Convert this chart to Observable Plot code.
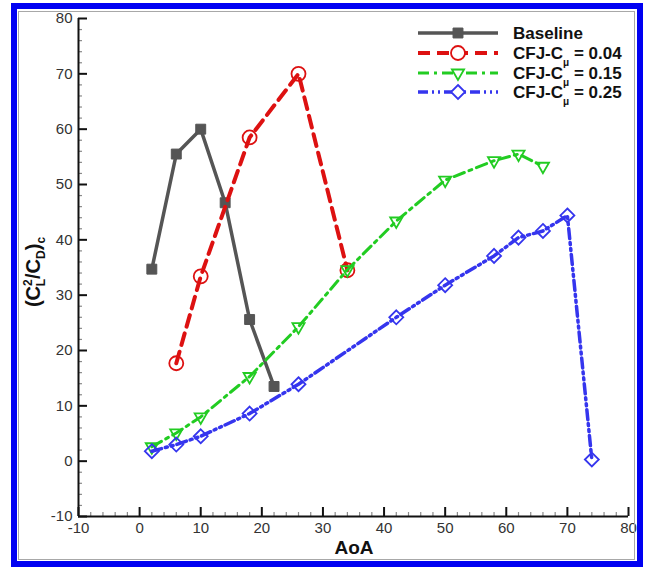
<!DOCTYPE html>
<html><head><meta charset="utf-8">
<script src="https://cdn.jsdelivr.net/npm/d3@7"></script>
<script src="https://cdn.jsdelivr.net/npm/@observablehq/plot@0.6"></script>
<style>
body{margin:0;background:#fff;}
#wrap{position:relative;width:647px;height:567px;overflow:hidden;font-family:"Liberation Sans",Arial,sans-serif;background:#fff;}
#wrap svg{position:absolute;left:0;top:0;}
#blue{position:absolute;left:11px;top:3px;width:632px;height:564px;border:6px solid #0000f2;box-sizing:border-box;pointer-events:none;}
#gray{position:absolute;left:18px;top:11px;width:617px;height:549px;border:1px solid #a8a8a8;box-sizing:border-box;pointer-events:none;}
</style></head>
<body><div id="wrap"></div>
<script>
// ---- data ----
const baseX = [2, 6, 10, 14, 18, 22];
const baseY = [34.7, 55.5, 60.0, 46.7, 25.6, 13.5];
const c04X = [6, 10, 18, 26, 34];
const c04Y = [17.7, 33.4, 58.5, 70.0, 34.5];
const c15X = [2, 6, 10, 18, 26, 34, 42, 50, 58, 62, 66];
const c15Y = [2.6, 5.1, 8.0, 15.3, 24.3, 34.6, 43.4, 50.8, 54.3, 55.5, 53.3];
const c25X = [2, 6, 10, 18, 26, 42, 50, 58, 62, 66, 70, 74];
const c25Y = [1.8, 3.0, 4.5, 8.6, 13.9, 26.0, 31.8, 37.1, 40.4, 41.6, 44.4, 0.3];

const xTicks = [-10, 0, 10, 20, 30, 40, 50, 60, 70, 80];
const yTicks = [-10, 0, 10, 20, 30, 40, 50, 60, 70, 80];
const seriesNames = ["Baseline", "CFJ-C", "CFJ-C", "CFJ-C"];
const cmuValues = [null, "0.04", "0.15", "0.25"];
const xLabel = "AoA";

// ---- styles ----
const colors = ["#555555", "#dd1111", "#22cc22", "#3535ee"];
const dashes = [null, "12,7", "11,5,3,5", "10,4,2,4,2,4"];
const widths = [3.5, 4, 3, 3.5];
const symbols = ["square", "circle", "triangle2", "diamond2"];
const radii = [5.6, 7, 5.8, 6.3];
const rotates = [0, 0, 180, 0];

const rows = (xs, ys) => xs.map((x, i) => ({x, y: ys[i]}));
const series = [rows(baseX, baseY), rows(c04X, c04Y), rows(c15X, c15Y), rows(c25X, c25Y)];

const xMinor = d3.range(-10, 81, 2).filter(v => v % 10 !== 0);
const yMinor = d3.range(-10, 81, 2).filter(v => v % 10 !== 0);

// tick lengths in data units (9px major, 4px minor, pointing inward)
const pxX = 550 / 90, pxY = 498 / 90;

const seriesMarks = series.flatMap((d, i) => [
  Plot.line(d, {x: "x", y: "y", stroke: colors[i], strokeWidth: widths[i], strokeDasharray: dashes[i], strokeLinejoin: "round"}),
  Plot.dot(d, {x: "x", y: "y", symbol: symbols[i], r: radii[i], rotate: rotates[i],
    fill: i === 0 ? colors[i] : "none", stroke: colors[i], strokeWidth: i === 0 ? 1 : 1.8})
]);

const chart = Plot.plot({
  width: 647, height: 567,
  marginLeft: 78, marginRight: 19, marginTop: 18, marginBottom: 51,
  x: {domain: [-10, 80]},
  y: {domain: [-10, 80]},
  style: {fontFamily: '"Liberation Sans", Arial, sans-serif', fontSize: "15px", color: "#333", background: "transparent", overflow: "visible"},
  marks: [
    Plot.ruleX(xMinor, {y1: -10, y2: -10 + 4 / pxY, stroke: "#8a8a8a", strokeWidth: 1.2}),
    Plot.ruleY(yMinor, {x1: -10, x2: -10 + 4 / pxX, stroke: "#8a8a8a", strokeWidth: 1.2}),
    Plot.ruleX(xTicks, {y1: -10, y2: -10 + 9 / pxY, stroke: "#111", strokeWidth: 2}),
    Plot.ruleY(yTicks, {x1: -10, x2: -10 + 9 / pxX, stroke: "#111", strokeWidth: 2}),
    Plot.axisX(xTicks, {tickSize: 0, tickPadding: 6, label: null, fill: "#333", tickFormat: d => String(d)}),
    Plot.axisY(yTicks, {tickSize: 0, tickPadding: 6, label: null, fill: "#333", tickFormat: d => String(d)}),
    Plot.ruleX([-10], {stroke: "#111", strokeWidth: 2}),
    Plot.ruleY([-10], {stroke: "#111", strokeWidth: 2}),
    ...seriesMarks
  ]
});

document.getElementById("wrap").appendChild(chart);
const svg = d3.select(chart);
const ff = '"Liberation Sans", Arial, sans-serif';

// x label
svg.append("text").attr("x", 354).attr("y", 554).attr("text-anchor", "middle")
  .attr("font-family", ff).attr("font-weight", "bold").attr("font-size", 19).attr("fill", "#111").text(xLabel);

// y label (C_L^2/C_D)_c
const yl = svg.append("text").attr("transform", "translate(40,272) rotate(-90)").attr("text-anchor", "middle")
  .attr("font-family", ff).attr("font-weight", "bold").attr("font-size", 20).attr("fill", "#111");
yl.append("tspan").text("(C");
yl.append("tspan").attr("font-size", 12).attr("dy", -8).text("2");
yl.append("tspan").attr("font-size", 12).attr("dx", -7).attr("dy", 13).text("L");
yl.append("tspan").attr("dy", -5).text("/C");
yl.append("tspan").attr("font-size", 12).attr("dy", 5).text("D");
yl.append("tspan").attr("dy", -5).text(")");
yl.append("tspan").attr("font-size", 12).attr("dy", 5).text("c");

// legend
const legY = [33, 53, 73, 92];
const symMap = {square: d3.symbolSquare, circle: d3.symbolCircle, triangle2: d3.symbolTriangle2, diamond2: d3.symbolDiamond2};
seriesNames.forEach((name, i) => {
  const g = svg.append("g");
  g.append("line").attr("x1", 418).attr("x2", 498).attr("y1", legY[i]).attr("y2", legY[i])
    .attr("stroke", colors[i]).attr("stroke-width", widths[i]).attr("stroke-dasharray", dashes[i]);
  g.append("path").attr("d", d3.symbol(symMap[symbols[i]], Math.PI * radii[i] * radii[i])())
    .attr("transform", `translate(458,${legY[i]}) rotate(${rotates[i]})`)
    .attr("fill", i === 0 ? colors[i] : "#fff").attr("stroke", colors[i]).attr("stroke-width", i === 0 ? 1 : 1.8);
  const t = g.append("text").attr("x", 513).attr("y", legY[i]).attr("dy", "0.36em").attr("text-anchor", "start")
    .attr("font-family", ff).attr("font-weight", "bold").attr("font-size", 17).attr("fill", "#111");
  t.append("tspan").text(name);
  if (cmuValues[i]) {
    t.append("tspan").attr("font-size", 10).attr("dy", 7).text("μ");
    t.append("tspan").attr("dy", -7).text(" = " + cmuValues[i]);
  }
});

const wrap = document.getElementById("wrap");
const gray = document.createElement("div"); gray.id = "gray"; wrap.appendChild(gray);
const blue = document.createElement("div"); blue.id = "blue"; wrap.appendChild(blue);
</script>
</body></html>
